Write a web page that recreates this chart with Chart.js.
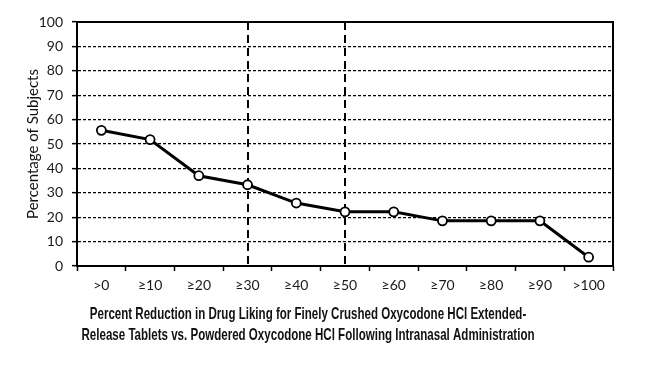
<!DOCTYPE html>
<html><head><meta charset="utf-8">
<script src="https://cdn.jsdelivr.net/npm/chart.js@4.4.1/dist/chart.umd.min.js"></script>
<style>html,body{margin:0;padding:0;background:#fff}#wrap{width:653px;height:368px}</style>
</head><body><div id="wrap"><canvas id="c" width="653" height="368"></canvas></div>
<script>
const categories = ['>0','≥10','≥20','≥30','≥40','≥50','≥60','≥70','≥80','≥90','>100'];
const percentSubjects = [55.6, 51.8, 37.0, 33.3, 25.8, 22.2, 22.2, 18.5, 18.5, 18.5, 3.6];
const markerCategories = ['≥30','≥50'];
const yTitle = 'Percentage of Subjects';
const xTitle = ['Percent Reduction in Drug Liking for Finely Crushed Oxycodone HCl Extended-',
                'Release Tablets vs. Powdered Oxycodone HCl Following Intranasal Administration'];

const framePlugin = {
  id: 'frame',
  beforeDatasetsDraw(chart) {
    const {ctx, chartArea: a, scales: {x}} = chart;
    ctx.save();
    ctx.strokeStyle = '#000';
    ctx.lineWidth = 2;
    ctx.setLineDash([8, 5]);
    markerCategories.forEach(c => {
      const px = Math.round(x.getPixelForValue(categories.indexOf(c)));
      ctx.beginPath(); ctx.moveTo(px, a.top); ctx.lineTo(px, a.bottom); ctx.stroke();
    });
    ctx.restore();
  },
  afterDraw(chart) {
    const {ctx, chartArea: a} = chart;
    ctx.save();
    ctx.strokeStyle = '#000';
    ctx.lineWidth = 2;
    ctx.setLineDash([]);
    ctx.strokeRect(a.left, a.top, a.right - a.left, a.bottom - a.top);
    // condensed bold axis title under the x axis
    ctx.font = "bold 16.5px 'Liberation Sans Narrow', 'Liberation Sans', Arial, sans-serif";
    ctx.fillStyle = '#111';
    ctx.textAlign = 'center';
    ctx.textBaseline = 'middle';
    const sx = 453 / ctx.measureText(xTitle[1]).width;
    const cx = 308;
    xTitle.forEach((line, i) => {
      ctx.save();
      ctx.translate(cx, a.bottom + 48 + i * 21);
      ctx.scale(sx, 1);
      ctx.fillText(line, 0, 0);
      ctx.restore();
    });
    ctx.restore();
  }
};

new Chart(document.getElementById('c'), {
  type: 'line',
  data: {
    labels: categories,
    datasets: [{
      data: percentSubjects,
      borderColor: '#000',
      borderWidth: 3,
      pointBackgroundColor: '#fff',
      pointBorderColor: '#000',
      pointBorderWidth: 1.8,
      pointRadius: 4.5,
      tension: 0
    }]
  },
  options: {
    responsive: false,
    animation: false,
    layout: {padding: {left: 0, right: 40, top: 22, bottom: 70}},
    plugins: {
      legend: {display: false},
      tooltip: {enabled: false},
      title: {display: false}
    },
    scales: {
      x: {
        offset: true,
        grid: {display: true, drawOnChartArea: false, drawTicks: true, tickLength: 5, color: '#000', tickWidth: 1.5, offset: true},
        border: {display: true, color: '#000', width: 2},
        ticks: {color: '#1a1a1a', font: {family: 'Lato, sans-serif', size: 14}, padding: 6, maxRotation: 0, autoSkip: false},
        afterFit(s) { s.height = 32; }
      },
      y: {
        min: 0, max: 100,
        ticks: {stepSize: 10, color: '#1a1a1a', font: {family: 'Lato, sans-serif', size: 14}, padding: 9},
        grid: {color: '#000', lineWidth: 1.3, drawTicks: true, tickLength: 5, tickWidth: 1.5, tickColor: '#000', tickBorderDash: []},
        border: {display: true, color: '#000', width: 2, dash: [3, 2]},
        title: {display: true, text: yTitle, color: '#111', font: {family: 'Lato, sans-serif', size: 15}, padding: {top: 24, bottom: 0}},
        afterFit(s) { s.width = 77; }
      }
    }
  },
  plugins: [framePlugin]
});
</script></body></html>
